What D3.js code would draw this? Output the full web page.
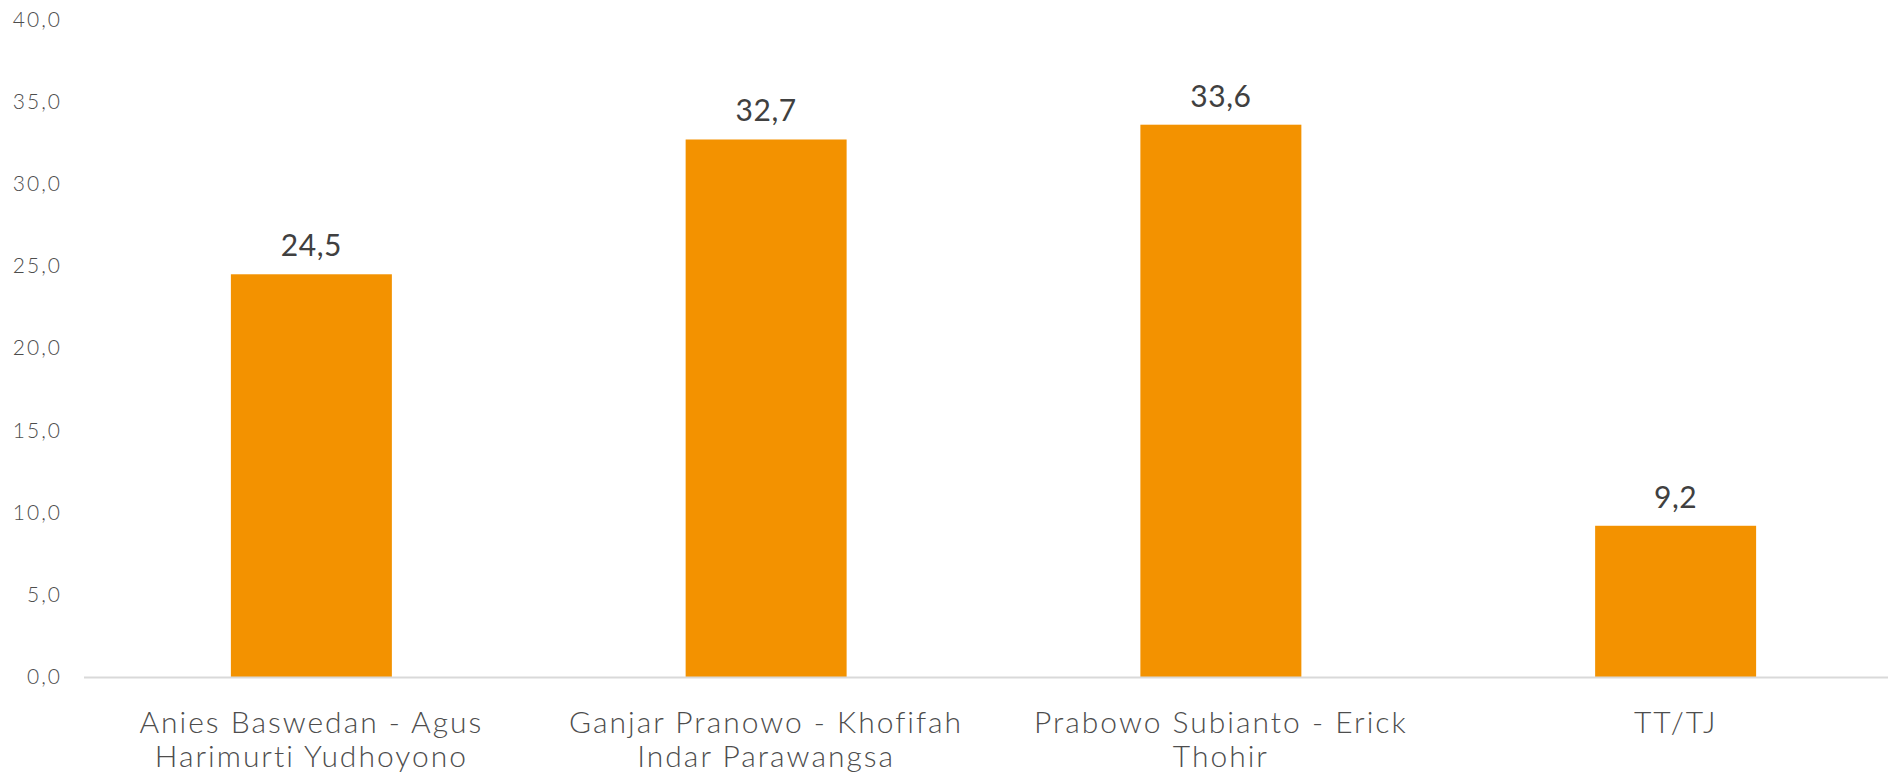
<!DOCTYPE html>
<html>
<head>
<meta charset="utf-8">
<script src="https://cdn.jsdelivr.net/npm/d3@7"></script>
<style>
  html, body { margin: 0; padding: 0; background: #fff; }
  svg text { font-family: "Lato", "Open Sans", sans-serif; }
</style>
</head>
<body>
<div id="container"></div>
<script>
const categories = [
  ["Anies Baswedan - Agus", "Harimurti Yudhoyono"],
  ["Ganjar Pranowo - Khofifah", "Indar Parawangsa"],
  ["Prabowo Subianto - Erick", "Thohir"],
  ["TT/TJ"]
];
const values = [24.5, 32.7, 33.6, 9.2];
const yTicks = [0, 5, 10, 15, 20, 25, 30, 35, 40];

const width = 1888;
const height = 775;

const svg = d3.select("#container")
  .append("svg")
  .attr("width", width)
  .attr("height", height);

const data = categories.map((c, i) => ({ key: i, lines: c, value: values[i] }));

// x: band scale, right end runs a bit past the picture edge
const x = d3.scaleBand()
  .domain(data.map(d => d.key))
  .range([84, 1903])
  .paddingInner(0.646)
  .paddingOuter(0.323);

const y = d3.scaleLinear()
  .domain([0, 40])
  .range([677, 19.5]);

const fmt = v => d3.format(".1f")(v).replace(".", ",");

// y axis labels only
const yAxis = d3.axisLeft(y)
  .tickValues(yTicks)
  .tickFormat(fmt)
  .tickSize(0)
  .tickPadding(0);

const gy = svg.append("g")
  .attr("transform", "translate(62,0)")
  .call(yAxis);
gy.select(".domain").remove();
gy.selectAll("text")
  .attr("fill", "#4d4d4d")
  .style("font-size", "21px")
  .style("font-weight", 300)
  .style("letter-spacing", "2px");

// bars
svg.selectAll(".bar")
  .data(data)
  .join("rect")
  .attr("class", "bar")
  .attr("x", d => x(d.key))
  .attr("y", d => y(d.value))
  .attr("width", x.bandwidth())
  .attr("height", d => y(0) - y(d.value))
  .attr("fill", "#f39200");

// baseline
svg.append("line")
  .attr("x1", 84)
  .attr("x2", width)
  .attr("y1", y(0) + 0.5)
  .attr("y2", y(0) + 0.5)
  .attr("stroke", "#d9d9d9")
  .attr("stroke-width", 2);

// data labels
svg.selectAll(".val")
  .data(data)
  .join("text")
  .attr("class", "val")
  .attr("x", d => x(d.key) + x.bandwidth() / 2)
  .attr("y", d => y(d.value) - 18)
  .attr("text-anchor", "middle")
  .attr("fill", "#404040")
  .style("font-size", "30px")
  .style("font-weight", 400)
  .style("letter-spacing", "0.5px")
  .text(d => fmt(d.value));

// category labels
const cat = svg.selectAll(".cat")
  .data(data)
  .join("text")
  .attr("class", "cat")
  .attr("text-anchor", "middle")
  .attr("fill", "#4d4d4d")
  .style("font-size", "30px")
  .style("font-weight", 300)
  .style("letter-spacing", "2px");

cat.selectAll("tspan")
  .data(d => d.lines.map((l, i) => ({ l, i, cx: x(d.key) + x.bandwidth() / 2 })))
  .join("tspan")
  .attr("x", d => d.cx)
  .attr("y", d => 733 + d.i * 34)
  .text(d => d.l);
</script>
</body>
</html>
